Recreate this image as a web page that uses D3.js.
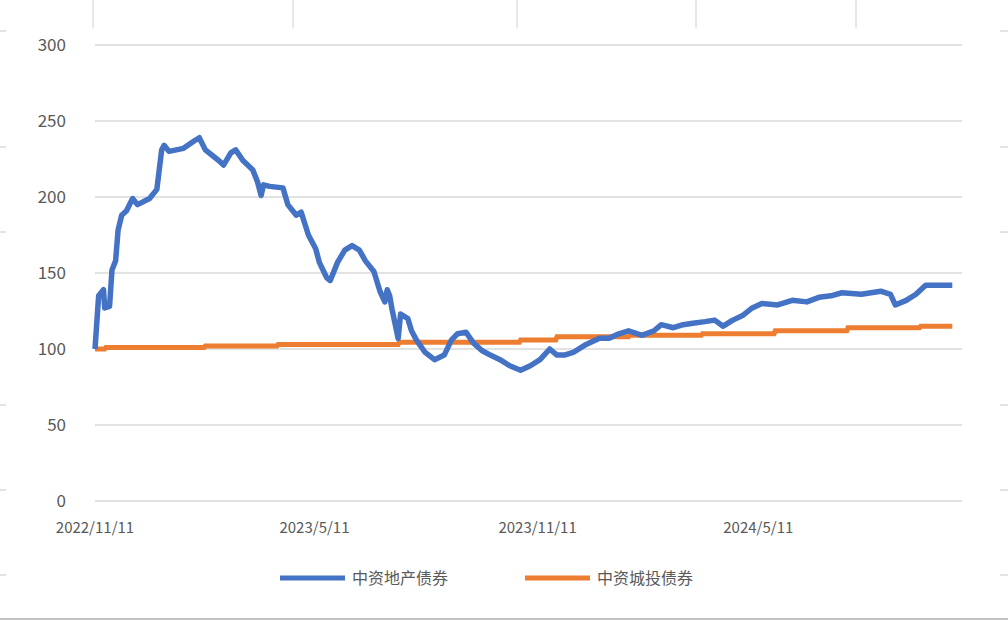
<!DOCTYPE html>
<html><head><meta charset="utf-8">
<script src="https://cdn.jsdelivr.net/npm/d3@7"></script>
<style>
body{margin:0;background:#fff;font-family:"Microsoft YaHei","Noto Sans CJK SC",sans-serif;}
</style></head>
<body><svg id="c" width="1008" height="620"></svg>
<script>
// days since 2022/11/11 and index values
const startDate = new Date(2022, 10, 11);
const endDate = new Date(2024, 9, 26);
const realEstateDays = [0,3,7,8,12,14,17,19,22,26,31,35,45,51,55,57,61,73,82,86,91,102,106,112,116,122,130,134,137,139,144,155,159,166,170,176,182,185,191,194,200,206,212,218,223,230,235,239,241,243,245,250,252,258,261,265,272,280,288,294,299,306,312,319,326,334,342,351,359,367,375,381,387,395,405,416,424,432,440,451,461,467,477,485,493,503,511,518,526,534,542,550,563,575,587,597,607,616,632,648,656,660,669,677,685,695,707];
const realEstateVals = [100,135,139,127,128,152,158,178,188,191,199,195,199,205,231,234,230,232,237,239,231,224,221,229,231,224,218,210,201,208,207,206,195,188,190,175,166,157,147,145,157,165,168,165,158,151,138,131,139,135,126,107,123,120,112,106,98,93,96,106,110,111,104,99,96,93,89,86,89,93,100,96,96,98,103,107,107,110,112,109,112,116,114,116,117,118,119,115,119,122,127,130,129,132,131,134,135,137,136,138,136,129,132,136,142,142,142];
const urbanDays = [0,8,9,90,91,150,151,250,251,350,351,380,381,440,441,500,501,560,561,620,621,680,681,707];
const urbanVals = [100,100,101,101,102,102,103,103,104.5,104.5,106,106,108,108,109,109,110,110,112,112,114,114,115,115];
const yTicks = [0,50,100,150,200,250,300];
const xTickLabels = ["2022/11/11","2023/5/11","2023/11/11","2024/5/11"];
const seriesNames = ["中资地产债券","中资城投债券"];
const colors = ["#4472C4","#ED7D31"];

const svg = d3.select("#c");
const x = d3.scaleTime().domain([startDate, endDate]).range([95, 962]);
const y = d3.scaleLinear().domain([0, 300]).range([501, 45]);
const toPts = (days, vals) => days.map((d, i) => [d3.timeDay.offset(startDate, d), vals[i]]);

// spreadsheet cell border remnants
[93,293,517,696,856].forEach(px => svg.append("line").attr("x1",px).attr("x2",px).attr("y1",0).attr("y2",28).attr("stroke","#d0d0d0"));
[31,147,232,405,490,575].forEach(py => {
  svg.append("line").attr("x1",0).attr("x2",6).attr("y1",py).attr("y2",py).attr("stroke","#c8c8c8");
  svg.append("line").attr("x1",1000).attr("x2",1008).attr("y1",py).attr("y2",py).attr("stroke","#c8c8c8");
});
svg.append("line").attr("x1",0).attr("x2",1008).attr("y1",619).attr("y2",619).attr("stroke","#888");

const g = svg.append("g");
g.selectAll(".grid").data(yTicks).join("line")
  .attr("x1",95).attr("x2",962).attr("y1",d=>y(d)).attr("y2",d=>y(d))
  .attr("stroke","#d9d9d9").attr("stroke-width",1.5);
g.selectAll(".yl").data(yTicks).join("text")
  .attr("x",66).attr("y",d=>y(d)+6).attr("text-anchor","end")
  .attr("font-size",17).attr("fill","#595959").text(d=>d);

const parse = d3.timeParse("%Y/%m/%d");
g.selectAll(".xl").data(xTickLabels).join("text")
  .attr("x",d=>x(parse(d))).attr("y",533).attr("text-anchor","middle")
  .attr("font-size",15).attr("fill","#595959").text(d=>d);

const line = d3.line().x(d=>x(d[0])).y(d=>y(d[1]));
g.append("path").datum(toPts(urbanDays, urbanVals)).attr("d", line)
  .attr("fill","none").attr("stroke",colors[1]).attr("stroke-width",5);
g.append("path").datum(toPts(realEstateDays, realEstateVals)).attr("d", line)
  .attr("fill","none").attr("stroke",colors[0]).attr("stroke-width",5.5).attr("stroke-linejoin","round");

const lg = svg.append("g");
[[280,0],[525,1]].forEach(([lx,i]) => {
  lg.append("line").attr("x1",lx).attr("x2",lx+65).attr("y1",578).attr("y2",578)
    .attr("stroke",colors[i]).attr("stroke-width",5);
  lg.append("text").attr("x",lx+72).attr("y",584).attr("font-size",16).attr("fill","#595959").text(seriesNames[i]);
});
</script></body></html>
